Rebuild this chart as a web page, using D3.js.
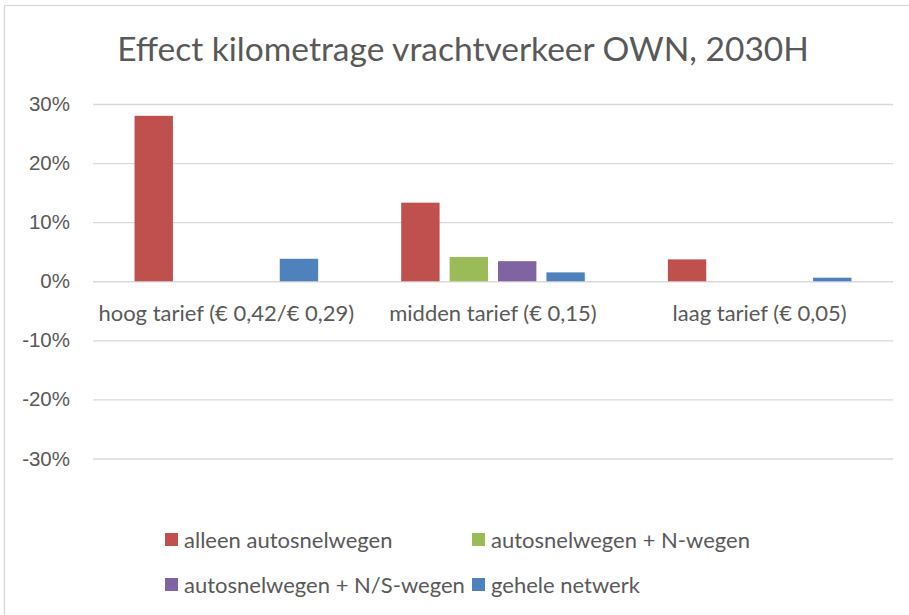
<!DOCTYPE html>
<html>
<head>
<meta charset="utf-8">
<script src="https://cdn.jsdelivr.net/npm/d3@7"></script>
<style>
  body { margin: 0; background: #fff; }
  svg { display: block; font-family: Lato, "Open Sans", sans-serif; }
  .axis path { display: none; }
  .axis line { stroke: #d9d9d9; stroke-width: 1.4; }
  .axis text { fill: #595959; font-size: 20.5px; }
</style>
</head>
<body>
<svg id="chart" width="909" height="615"></svg>
<script>
// chart data
var categories = ["hoog tarief (€ 0,42/€ 0,29)", "midden tarief (€ 0,15)", "laag tarief (€ 0,05)"];
var series_names = ["alleen autosnelwegen", "autosnelwegen + N-wegen", "autosnelwegen + N/S-wegen", "gehele netwerk"];
var alleen_autosnelwegen = [0.28, 0.133, 0.037];
var plus_n_wegen = [0, 0.041, 0];
var plus_ns_wegen = [0, 0.034, 0];
var gehele_netwerk = [0.038, 0.015, 0.006];
var y_ticks = [-0.3, -0.2, -0.1, 0, 0.1, 0.2, 0.3];
var colors = ["#c0504d", "#9bbb59", "#8064a2", "#4f81bd"];

var series_values = [alleen_autosnelwegen, plus_n_wegen, plus_ns_wegen, gehele_netwerk];

var svg = d3.select("#chart"),
    w = 909, h = 615,
    plot = {left: 93, right: 893, top: 104, bottom: 458.5};

// chart frame
svg.append("rect")
    .attr("x", 4.5).attr("y", 5.5)
    .attr("width", w + 10).attr("height", h + 10)
    .attr("fill", "#fff")
    .attr("stroke", "#d9d9d9")
    .attr("stroke-width", 1.3);

svg.append("text")
    .attr("x", 463)
    .attr("y", 61)
    .attr("text-anchor", "middle")
    .attr("fill", "#595959")
    .style("font-size", "33.5px")
    .text("Effect kilometrage vrachtverkeer OWN, 2030H");

var x0 = d3.scaleBand()
    .domain(categories)
    .range([plot.left, plot.right]);

var x1 = d3.scaleBand()
    .domain(series_names)
    .range([0, x0.bandwidth()])
    .paddingInner(0.207)
    .paddingOuter(0.858);

var y = d3.scaleLinear()
    .domain([-0.3, 0.3])
    .range([plot.bottom, plot.top]);

var y_axis = svg.append("g")
    .attr("class", "axis")
    .attr("transform", "translate(" + plot.left + ",0)")
    .call(d3.axisLeft(y)
        .tickValues(y_ticks)
        .tickSize(-(plot.right - plot.left))
        .tickPadding(23)
        .tickFormat(function(d) { return Math.round(d * 100) + "%"; }));

// bars
var groups = svg.append("g").selectAll("g")
    .data(categories)
  .enter().append("g")
    .attr("transform", function(d) { return "translate(" + x0(d) + ",0)"; });

groups.selectAll("rect")
    .data(function(c, ci) {
      return series_names.map(function(s, si) {
        return {series: s, i: si, value: series_values[si][ci]};
      });
    })
  .enter().append("rect")
    .attr("x", function(d) { return x1(d.series); })
    .attr("width", x1.bandwidth())
    .attr("y", function(d) { return y(Math.max(0, d.value)); })
    .attr("height", function(d) { return Math.abs(y(d.value) - y(0)); })
    .attr("fill", function(d) { return colors[d.i]; });

// category labels
svg.append("g").selectAll("text")
    .data(categories)
  .enter().append("text")
    .attr("x", function(d) { return x0(d) + x0.bandwidth() / 2; })
    .attr("y", 313)
    .attr("dy", "0.35em")
    .attr("text-anchor", "middle")
    .attr("fill", "#595959")
    .style("font-size", "22px")
    .text(function(d) { return d; });

// legend, two rows of two
var legend_x = [165, 472],
    legend_y = [540, 585];

var legend = svg.append("g").selectAll("g")
    .data(series_names)
  .enter().append("g")
    .attr("transform", function(d, i) {
      return "translate(" + legend_x[i % 2] + "," + legend_y[Math.floor(i / 2)] + ")";
    });

legend.append("rect")
    .attr("x", 0).attr("y", -7)
    .attr("width", 13).attr("height", 13)
    .attr("fill", function(d, i) { return colors[i]; });

legend.append("text")
    .attr("x", 19)
    .attr("dy", "0.35em")
    .attr("fill", "#595959")
    .style("font-size", "22px")
    .text(function(d) { return d; });
</script>
</body>
</html>
